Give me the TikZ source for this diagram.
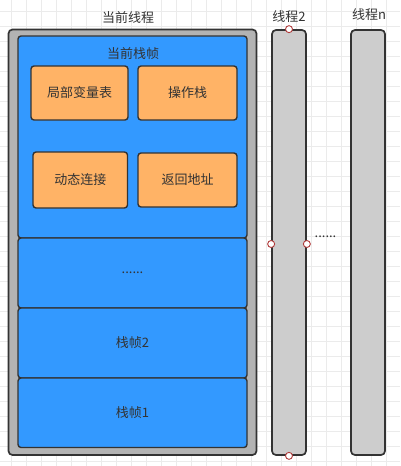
\documentclass[tikz,border=0pt]{standalone}
\usepackage{fontspec}
\setmainfont{Noto Sans CJK SC}
\definecolor{ink}{HTML}{333333}
\definecolor{gridline}{HTML}{EBEBEB}
\definecolor{threadfill}{HTML}{B3B3B3}
\definecolor{threadlight}{HTML}{CDCDCD}
\definecolor{framefill}{HTML}{3399FF}
\definecolor{slotfill}{HTML}{FFB366}
\definecolor{portline}{HTML}{B03A3A}
\tikzset{
  box/.style={draw=ink, inner sep=0pt, text=ink, font=\fontsize{13}{15}\selectfont},
  threadbox/.style={box, line width=1.7pt, fill=threadfill, rounded corners=4pt},
  lanebox/.style={box, line width=1.7pt, fill=threadlight, rounded corners=4pt},
  framebox/.style={box, line width=1.4pt, fill=framefill, rounded corners=3pt},
  slotbox/.style={box, line width=1.4pt, fill=slotfill, rounded corners=3pt},
  caption/.style={text=ink, inner sep=0pt, font=\fontsize{13}{15}\selectfont},
  port/.style={circle, draw=portline, fill=white, line width=0.9pt, inner sep=0pt, minimum size=7pt},
}
\begin{document}
\begin{tikzpicture}[x=1pt, y=-1pt]
  % canvas and background grid
  \fill[white] (0,0) rectangle (400,466);
  \useasboundingbox (0,0) rectangle (400,466);
  \foreach \k in {0,...,26} \draw[gridline, line width=1pt] (11.5+15*\k,0) -- (11.5+15*\k,466);
  \foreach \k in {0,...,30} \draw[gridline, line width=1pt] (0,11+15*\k) -- (400,11+15*\k);

  % current thread with its stack
  \node[caption] (tcurT) at (128,17.5) {当前线程};
  \node[threadbox, minimum width=248pt, minimum height=425.5pt] (tcur) at (132.5,242.25) {};

  \node[framebox, minimum width=229pt, minimum height=202pt] (fcur) at (132.5,137) {};
  \node[caption] (fcurT) at (133,54) {当前栈帧};
  \node[slotbox, minimum width=97pt, minimum height=54pt] (locals) at (79.5,93) {局部变量表};
  \node[slotbox, minimum width=99pt, minimum height=54pt] (operand) at (187.5,93) {操作栈};
  \node[slotbox, minimum width=94.5pt, minimum height=56pt] (dynlink) at (80.25,180) {动态连接};
  \node[slotbox, minimum width=99pt, minimum height=54pt] (retaddr) at (187.5,180) {返回地址};

  \node[framebox, minimum width=229pt, minimum height=70pt] (fdots) at (132.5,273) {......};
  \node[framebox, minimum width=229pt, minimum height=70pt] (f2) at (132.5,343) {栈帧2};
  \node[framebox, minimum width=229pt, minimum height=69.5pt] (f1) at (132.5,412.75) {栈帧1};

  % other threads
  \node[caption] (t2T) at (289,17) {线程2};
  \node[lanebox, minimum width=34pt, minimum height=425pt] (t2) at (289,242.5) {};
  \node[caption] (tnT) at (369,15) {线程n};
  \node[lanebox, minimum width=34pt, minimum height=425pt] (tn) at (368,242.5) {};
  \node[caption] (tdots) at (325.5,237) {......};

  % connection points of thread 2
  \node[port] (p2n) at (t2.north) {};
  \node[port] (p2s) at (t2.south) {};
  \node[port] (p2w) at ([yshift=-1.5pt]t2.west) {};
  \node[port] (p2e) at ([yshift=-1.5pt]t2.east) {};
\end{tikzpicture}
\end{document}
